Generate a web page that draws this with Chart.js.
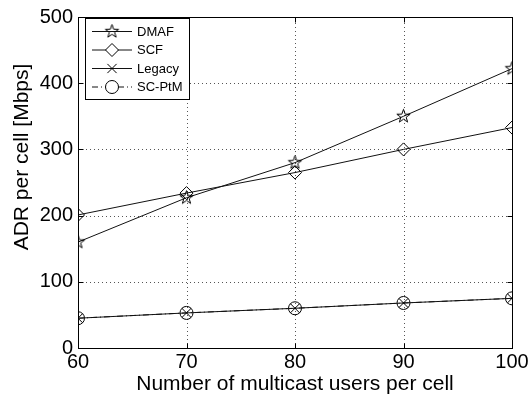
<!DOCTYPE html>
<html><head><meta charset="utf-8">
<script src="https://cdn.jsdelivr.net/npm/chart.js@4.4.1/dist/chart.umd.min.js"></script>
<style>html,body{margin:0;padding:0;background:#fff;}canvas{display:block;}</style>
</head><body>
<canvas id="c" width="532" height="402"></canvas>
<script>
const categories = [60, 70, 80, 90, 100];
const dmafValues = [160, 227, 280, 350, 422];
const scfValues = [201, 234, 265, 300, 333];
const legacyValues = [45, 53, 60, 68, 75];
const scptmValues = [45, 53, 60, 68, 75];
const xTicks = [60, 70, 80, 90, 100];
const yTicks = [0, 100, 200, 300, 400, 500];
const seriesLabels = ['DMAF', 'SCF', 'Legacy', 'SC-PtM'];
const xTitle = 'Number of multicast users per cell';
const yTitle = 'ADR per cell [Mbps]';

const FONT = '"Liberation Sans", Arial, sans-serif';

function makeStar() {
  const c = document.createElement('canvas');
  c.width = 17; c.height = 17;
  const g = c.getContext('2d');
  g.strokeStyle = '#000'; g.lineWidth = 1;
  g.beginPath();
  const R = 7, r = 2.8, cx = 8.5, cy = 8.5;
  for (let i = 0; i < 10; i++) {
    const a = -Math.PI / 2 + i * Math.PI / 5;
    const rr = i % 2 ? r : R;
    const px = cx + rr * Math.cos(a), py = cy + rr * Math.sin(a);
    if (i) g.lineTo(px, py); else g.moveTo(px, py);
  }
  g.closePath(); g.stroke();
  return c;
}
const starImg = makeStar();

function pts(vals) { return categories.map((x, i) => ({ x: x, y: vals[i] })); }

const styles = [
  { style: starImg, radius: 7, dash: [] },
  { style: 'rectRot', radius: 6.5, dash: [] },
  { style: 'crossRot', radius: 6.5, dash: [] },
  { style: 'circle', radius: 6.5, dash: [6, 3, 1, 3] }
];
const seriesValues = [dmafValues, scfValues, legacyValues, scptmValues];

const datasets = seriesLabels.map((lab, i) => ({
  label: lab,
  data: pts(seriesValues[i]),
  borderColor: '#111',
  borderWidth: 1,
  borderDash: styles[i].dash,
  backgroundColor: 'rgba(0,0,0,0)',
  pointStyle: styles[i].style,
  pointRadius: styles[i].radius,
  pointBorderColor: '#000',
  pointBackgroundColor: 'rgba(0,0,0,0)',
  pointBorderWidth: 1,
  tension: 0,
  fill: false
}));

const decor = {
  id: 'decor',
  beforeDatasetsDraw(chart) {
    const ctx = chart.ctx, a = chart.chartArea;
    const xs = chart.scales.x, ys = chart.scales.y;
    ctx.save();
    ctx.strokeStyle = '#555';
    ctx.lineWidth = 1;
    ctx.setLineDash([1, 3]);
    xTicks.slice(1, -1).forEach(v => {
      const px = Math.round(xs.getPixelForValue(v)) + 0.5;
      ctx.beginPath(); ctx.moveTo(px, a.bottom); ctx.lineTo(px, a.top); ctx.stroke();
    });
    yTicks.slice(1, -1).forEach(v => {
      const py = Math.round(ys.getPixelForValue(v)) + 0.5;
      ctx.beginPath(); ctx.moveTo(a.left, py); ctx.lineTo(a.right, py); ctx.stroke();
    });
    ctx.restore();
  },
  afterDraw(chart) {
    const ctx = chart.ctx, a = chart.chartArea;
    const xs = chart.scales.x, ys = chart.scales.y;
    ctx.save();
    ctx.strokeStyle = '#000';
    ctx.lineWidth = 1;
    ctx.setLineDash([]);
    const L = Math.round(a.left) + 0.5, R = Math.round(a.right) + 0.5;
    const T = Math.round(a.top) + 0.5, B = Math.round(a.bottom) + 0.5;
    ctx.strokeRect(L, T, R - L, B - T);
    const tl = 5;
    xTicks.forEach(v => {
      const px = Math.round(xs.getPixelForValue(v)) + 0.5;
      ctx.beginPath();
      ctx.moveTo(px, B); ctx.lineTo(px, B - tl);
      ctx.moveTo(px, T); ctx.lineTo(px, T + tl);
      ctx.stroke();
    });
    yTicks.forEach(v => {
      const py = Math.round(ys.getPixelForValue(v)) + 0.5;
      ctx.beginPath();
      ctx.moveTo(L, py); ctx.lineTo(L + tl, py);
      ctx.moveTo(R, py); ctx.lineTo(R - tl, py);
      ctx.stroke();
    });
    // axis titles
    ctx.fillStyle = '#000';
    ctx.font = '21px ' + FONT;
    ctx.textAlign = 'center';
    ctx.textBaseline = 'alphabetic';
    ctx.fillText(xTitle, (a.left + a.right) / 2, 390);
    ctx.save();
    ctx.translate(27.5, 157);
    ctx.rotate(-Math.PI / 2);
    ctx.fillText(yTitle, 0, 0);
    ctx.restore();
    // legend
    const bx = 85.5, by = 18.5, bw = 104, bh = 81;
    ctx.fillStyle = '#fff';
    ctx.fillRect(bx, by, bw, bh);
    ctx.strokeRect(bx, by, bw, bh);
    ctx.font = '13px ' + FONT;
    ctx.textAlign = 'left';
    ctx.textBaseline = 'middle';
    const rows = [31.5, 50, 68.5, 87];
    seriesLabels.forEach((lab, i) => {
      const y = rows[i];
      ctx.save();
      ctx.strokeStyle = '#111';
      ctx.setLineDash(styles[i].dash);
      ctx.beginPath(); ctx.moveTo(92, y); ctx.lineTo(132, y); ctx.stroke();
      ctx.restore();
      ctx.save();
      ctx.fillStyle = '#fff';
      ctx.strokeStyle = '#000';
      ctx.setLineDash([]);
      Chart.helpers.drawPoint(ctx, {
        pointStyle: styles[i].style, radius: styles[i].radius, rotation: 0, borderWidth: 1
      }, 112, y);
      ctx.restore();
      ctx.fillStyle = '#000';
      ctx.fillText(lab, 137, y + 0.5);
    });
    ctx.restore();
  }
};

new Chart(document.getElementById('c'), {
  type: 'line',
  data: { datasets: datasets },
  options: {
    responsive: false,
    animation: false,
    devicePixelRatio: 1,
    layout: { padding: { top: 14, right: 20, left: 0, bottom: 0 } },
    plugins: { legend: { display: false }, tooltip: { enabled: false } },
    scales: {
      x: {
        type: 'linear', min: 60, max: 100,
        afterBuildTicks: s => { s.ticks = xTicks.map(v => ({ value: v })); },
        afterFit: s => { s.height = 54; },
        grid: { display: false, drawTicks: false },
        border: { display: false },
        ticks: { color: '#000', font: { family: FONT, size: 20 }, padding: 2, maxRotation: 0 }
      },
      y: {
        type: 'linear', min: 0, max: 500,
        afterBuildTicks: s => { s.ticks = yTicks.map(v => ({ value: v })); },
        afterFit: s => { s.width = 78; },
        grid: { display: false, drawTicks: false },
        border: { display: false },
        ticks: { color: '#000', font: { family: FONT, size: 20 }, padding: 5 }
      }
    }
  },
  plugins: [decor]
});
</script>
</body></html>
